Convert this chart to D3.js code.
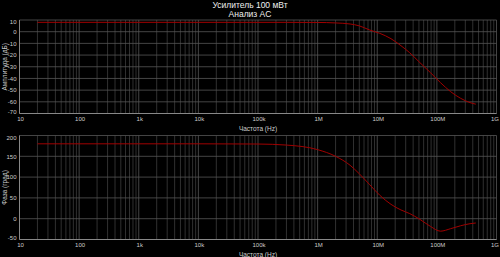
<!DOCTYPE html>
<html>
<head>
<meta charset="utf-8">
<script src="https://cdn.jsdelivr.net/npm/d3@7"></script>
<style>
  body { margin: 0; background: #000; }
  svg { display: block; font-family: "Liberation Sans", Arial, sans-serif; }
</style>
</head>
<body>
<div id="chart"></div>
<script>
// frequency points of the sweep (Hz)
let freqs = [20, 1e3, 1e4, 1e5, 3e5, 1e6, 2e6, 3.5e6, 5e6, 7.5e6, 1.1e7, 1.7e7, 2.5e7,
             3.5e7, 5.2e7, 7.8e7, 1.15e8, 1.7e8, 2.5e8, 3.6e8, 4.5e8];
// gain (dB)
let magnitude = [8, 8, 8, 8, 8, 7.9, 7.5, 6.6, 5.0, 1.4, -1.4, -6, -12,
                 -18, -26.5, -35, -43.6, -51.3, -57, -60.7, -62];
// phase (deg)
let phase = [180, 180, 180, 179.5, 177, 166, 150, 128.5, 108, 81.5, 56.5, 34.5, 21,
             12.3, -1.7, -18.5, -30, -24, -17, -12, -10.3];

let freqTicks = [10, 100, 1e3, 1e4, 1e5, 1e6, 1e7, 1e8, 1e9];
let freqLabels = ["10", "100", "1k", "10k", "100k", "1M", "10M", "100M", "1G"];
let magTicks = [10, 0, -10, -20, -30, -40, -50, -60, -70];
let phaseTicks = [200, 150, 100, 50, 0, -50];

let titleLines = ["Усилитель 100 мВт", "Анализ AC"];
let xTitle = "Частота (Hz)";

let width = 500, height = 257;

let svg = d3.select("#chart").append("svg")
    .attr("width", width)
    .attr("height", height);

svg.append("rect").attr("width", width).attr("height", height).attr("fill", "#000");

// title
svg.selectAll(".title")
    .data(titleLines)
    .join("text")
    .attr("class", "title")
    .attr("x", 250)
    .attr("y", (d, i) => 8 + i * 9)
    .attr("text-anchor", "middle")
    .attr("fill", "#eee")
    .attr("font-size", "8.5px")
    .text(d => d);

let x = d3.scaleLog().domain([10, 1e9]).range([19.5, 496.5]);

// minor gridline positions: 2..9 for each decade
let minor = [];
for (let dec = 10; dec < 1e9; dec *= 10)
    for (let m = 2; m <= 9; m++) minor.push(dec * m);

function panel(top, bottom, domain, ticks, values, yTitle) {
    let y = d3.scaleLinear().domain(domain).range([bottom, top]);
    let g = svg.append("g");

    // vertical grid
    g.selectAll(".minor")
        .data(minor)
        .join("line")
        .attr("x1", d => x(d)).attr("x2", d => x(d))
        .attr("y1", top).attr("y2", bottom)
        .attr("stroke", "#3c3c3c").attr("stroke-width", 0.8);
    g.selectAll(".major")
        .data(freqTicks)
        .join("line")
        .attr("x1", d => x(d)).attr("x2", d => x(d))
        .attr("y1", top).attr("y2", bottom)
        .attr("stroke", "#555").attr("stroke-width", 0.8);

    // horizontal grid
    g.selectAll(".hgrid")
        .data(ticks)
        .join("line")
        .attr("x1", x.range()[0]).attr("x2", x.range()[1])
        .attr("y1", d => y(d)).attr("y2", d => y(d))
        .attr("stroke", "#555").attr("stroke-width", 0.8);

    // frame (left + bottom)
    g.append("line")
        .attr("x1", x.range()[0]).attr("x2", x.range()[0])
        .attr("y1", top).attr("y2", bottom)
        .attr("stroke", "#888");
    g.append("line")
        .attr("x1", x.range()[0]).attr("x2", x.range()[1])
        .attr("y1", bottom).attr("y2", bottom)
        .attr("stroke", "#888");

    // y labels, end labels nudged inward
    g.selectAll(".ylab")
        .data(ticks)
        .join("text")
        .attr("x", 16.5)
        .attr("y", (d, i) => {
            let p = y(d) + 2.2;
            if (i == 0) p += 2;
            if (i == ticks.length - 1) p -= 1.8;
            return p;
        })
        .attr("text-anchor", "end")
        .attr("fill", "#ccc")
        .attr("font-size", "6px")
        .text(d => d);

    // x labels (last one kept inside the window)
    g.selectAll(".xlab")
        .data(freqTicks)
        .join("text")
        .attr("x", (d, i) => i == freqTicks.length - 1 ? 499 : x(d) + 1)
        .attr("y", bottom + 7.5)
        .attr("text-anchor", (d, i) => i == freqTicks.length - 1 ? "end" : "middle")
        .attr("fill", "#ccc")
        .attr("font-size", "6px")
        .text((d, i) => freqLabels[i]);

    g.append("text")
        .attr("x", 258)
        .attr("y", bottom + 17)
        .attr("text-anchor", "middle")
        .attr("fill", "#ccc")
        .attr("font-size", "6.5px")
        .text(xTitle);

    g.append("text")
        .attr("transform", "translate(7," + ((top + bottom) / 2) + ") rotate(-90)")
        .attr("text-anchor", "middle")
        .attr("fill", "#ccc")
        .attr("font-size", "6.5px")
        .text(yTitle);

    // curve
    let line = d3.line()
        .x((d, i) => x(freqs[i]))
        .y(d => y(d))
        .curve(d3.curveMonotoneX);
    g.append("path")
        .attr("d", line(values))
        .attr("fill", "none")
        .attr("stroke", "#a00000")
        .attr("stroke-width", 1);
}

panel(20, 113.5, [-70, 10], magTicks, magnitude, "Амплитуда (дБ)");
panel(135.5, 239.5, [-50, 200], phaseTicks, phase, "Фаза (град)");
</script>
</body>
</html>
